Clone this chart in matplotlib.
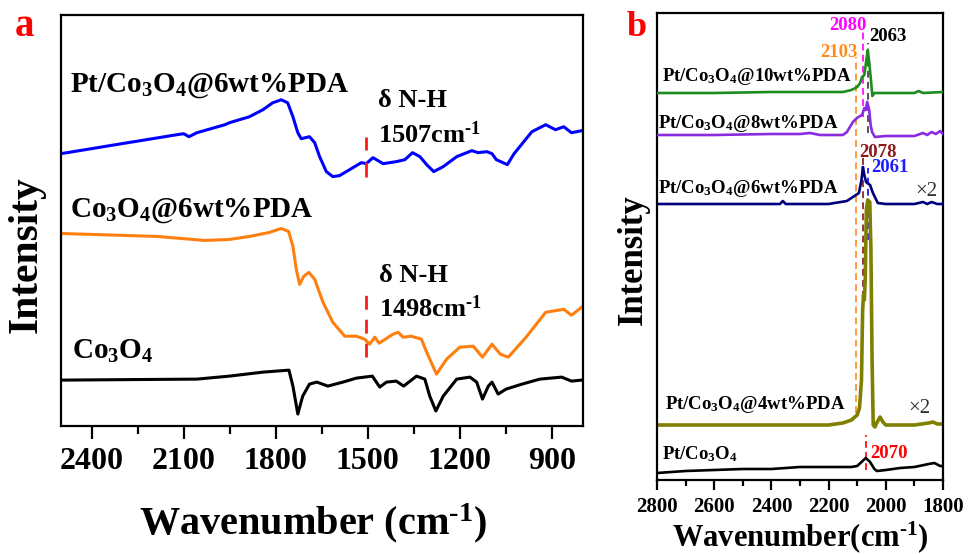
import matplotlib
matplotlib.use("Agg")
import matplotlib.pyplot as plt

plt.rcParams['font.family'] = ['Liberation Serif', 'DejaVu Serif']
plt.rcParams['font.weight'] = 'bold'
plt.rcParams['mathtext.fontset'] = 'custom'
plt.rcParams['mathtext.rm'] = 'Liberation Serif:bold'
plt.rcParams['mathtext.it'] = 'Liberation Serif:bold:italic'
plt.rcParams['mathtext.bf'] = 'Liberation Serif:bold'

# ---------------- Panel a data (FTIR) ----------------
a_blue_wn = [2500, 2302, 2122, 2100, 2083, 2057, 1966, 1951, 1886, 1842, 1810, 1782, 1761, 1744,
             1728, 1717, 1690, 1673, 1657, 1635, 1614, 1592, 1559, 1521, 1505, 1483, 1450, 1407,
             1379, 1354, 1330, 1308, 1285, 1254, 1210, 1161, 1140, 1112, 1095, 1081, 1045, 1023,
             965, 920, 888, 861, 836, 803]
a_blue_y = [273, 283, 292, 293, 290, 294, 302, 304, 310, 317, 324, 327, 324, 310,
            294, 288, 290, 284, 270, 255, 250, 251, 257, 264, 263, 269, 263, 265,
            267, 274, 270, 262, 255, 260, 270, 276, 274, 275, 273, 267, 262, 273,
            295, 302, 297, 300, 294, 296]

a_orange_wn = [2500, 2186, 2031, 1951, 1886, 1821, 1782, 1758, 1744, 1733, 1722, 1709, 1692, 1673,
               1646, 1614, 1575, 1537, 1510, 1494, 1477, 1463, 1418, 1401, 1385, 1358, 1325, 1308,
               1276, 1243, 1200, 1156, 1126, 1095, 1068, 1042, 984, 920, 861, 836, 803]
a_orange_y = [193, 190, 186, 187, 190, 194, 198, 195, 180, 157, 142, 150, 154, 147,
              124, 104, 90, 90, 87, 82, 89, 83, 92, 94, 89, 90, 87, 74,
              52, 67, 79, 80, 69, 82, 72, 69, 89, 114, 117, 111, 119]

a_black_wn = [2500, 2057, 1951, 1842, 1757, 1744, 1728, 1712, 1690, 1666, 1630, 1581, 1537, 1485,
              1461, 1439, 1407, 1383, 1341, 1314, 1298, 1278, 1254, 1210, 1167, 1145, 1126, 1107,
              1095, 1075, 1049, 997, 939, 868, 836, 803]
a_black_y = [46, 47, 50, 54, 56, 40, 12, 30, 42, 44, 40, 44, 48, 50,
             39, 44, 45, 40, 50, 47, 30, 15, 30, 47, 49, 44, 27, 40,
             44, 32, 37, 42, 47, 49, 45, 46]

a_ticks = [2400, 2100, 1800, 1500, 1200, 900]
a_nh_labels = [1507, 1498]
a_nh_marks = [1505, 1505]

# ---------------- Panel b data (CO-DRIFTS) ----------------
b_green_wn = [2800, 2600, 2400, 2200, 2150, 2120, 2100, 2090, 2083, 2075, 2068, 2063, 2058, 2052,
              2047, 2040, 2000, 1900, 1885, 1870, 1800]
b_green_y = [387, 387, 388, 388, 388, 390, 393, 397, 403, 405, 420, 430, 418, 400,
             384, 387, 387, 387, 389, 387, 388]

b_purple_wn = [2800, 2600, 2400, 2300, 2265, 2230, 2150, 2136, 2115, 2101, 2090, 2083, 2075, 2070,
               2065, 2058, 2053, 2048, 2038, 2000, 1900, 1870, 1855, 1840, 1825, 1810, 1800]
b_purple_y = [345, 345, 346, 346, 347, 345, 345, 348, 358, 362, 364, 365, 372, 370,
              378, 370, 355, 348, 343, 344, 344, 347, 345, 348, 346, 349, 346]

b_navy_wn = [2800, 2600, 2400, 2370, 2360, 2350, 2200, 2136, 2115, 2094, 2085, 2080, 2075, 2069,
             2055, 2045, 2028, 2000, 1900, 1870, 1855, 1840, 1820, 1800]
b_navy_y = [276, 276, 276, 276, 279, 276, 276, 279, 283, 287, 300, 313, 305, 298,
            295, 287, 277, 276, 276, 278, 276, 278, 276, 276]

b_olive_wn = [2800, 2400, 2200, 2150, 2120, 2100, 2092, 2085, 2081, 2078, 2075, 2072, 2068, 2063,
              2056, 2052, 2048, 2044, 2038, 2030, 2020, 2010, 2000, 1900, 1850, 1835, 1820, 1800]
b_olive_y = [55, 55, 55, 57, 60, 65, 72, 100, 170, 185, 180, 200, 270, 280,
             278, 230, 120, 55, 53, 58, 63, 58, 55, 55, 57, 58, 56, 56]

b_black_wn = [2800, 2700, 2600, 2500, 2400, 2300, 2200, 2120, 2100, 2085, 2070, 2055, 2040, 2031,
              2000, 1950, 1900, 1850, 1830, 1810, 1800]
b_black_y = [7, 9, 10, 11, 11, 13, 13, 13, 14, 18, 22, 18, 11, 9,
             10, 12, 13, 16, 17, 14, 14]

b_ticks = [2800, 2600, 2400, 2200, 2000, 1800]

b_peaks = [2103, 2080, 2063, 2078, 2061, 2070]
b_peak_colors = ['#FF9A3C', '#FF22FF', '#555555', '#8B3A3A', '#2A2AFF', '#FF2020']
b_peak_text_colors = ['#FF8C1A', '#FF00FF', '#000000', '#8B1A1A', '#1E1EFF', '#FF0000']
b_peak_spans = [(67, 423), (363, 450), (347, 437), (160, 323), (240, 312), (10, 45)]

SUP = r'$^{\text{-}1}$'

fig = plt.figure(figsize=(9.68, 5.54), dpi=100)

# ================= Panel a =================
ax = fig.add_axes([61 / 968, 1 - 426 / 554, 521.5 / 968, 411 / 554])
ax.plot(a_blue_wn, a_blue_y, color='#0000FF', lw=2.2)
ax.plot(a_orange_wn, a_orange_y, color='#FF7F0E', lw=2.2)
ax.plot(a_black_wn, a_black_y, color='#000000', lw=2.2)
ax.vlines(a_nh_marks[0], 250, 290, colors='#FF1A1A', lw=2.0, linestyles=(0, (5.4, 4.3)))
ax.vlines(a_nh_marks[1], 69, 137, colors='#FF1A1A', lw=2.0, linestyles=(0, (5, 3.6)))
ax.set_xlim(2500, 800)
ax.set_ylim(0, 412)
ax.set_yticks([])
ax.set_xticks(a_ticks)
ax.set_xticks([2250, 1950, 1650, 1350, 1050], minor=True)
ax.tick_params(axis='x', which='major', direction='out', length=9, width=1.6,
               labelsize=23, pad=6)
ax.tick_params(axis='x', which='minor', direction='out', length=5.5, width=1.6)
for lab in ax.get_xticklabels():
    lab.set_fontweight('bold')
for s in ax.spines.values():
    s.set_linewidth(1.6)

lbl = 21
ax.text(2470, 335, 'Pt/Co$_3$O$_4$@6wt%PDA', fontsize=lbl, fontweight='bold', va='baseline')
ax.text(2470, 210, 'Co$_3$O$_4$@6wt%PDA', fontsize=lbl, fontweight='bold', va='baseline')
ax.text(2464, 67, 'Co$_3$O$_4$', fontsize=lbl, fontweight='bold', va='baseline')
ax.text(1467, 320, 'δ N-H', fontsize=19, fontweight='bold', va='baseline')
ax.text(1467, 284, f'{a_nh_labels[0]}cm' + SUP, fontsize=19, fontweight='bold', va='baseline')
ax.text(1463, 144, 'δ N-H', fontsize=19, fontweight='bold', va='baseline')
ax.text(1463, 109, f'{a_nh_labels[1]}cm' + SUP, fontsize=19, fontweight='bold', va='baseline')

fig.text(313 / 968, 1 - 523 / 554, 'Wavenumber (cm' + SUP + ')', fontsize=29,
         fontweight='bold', ha='center', va='center')
fig.text(27 / 968, 1 - 255 / 554, 'Intensity', fontsize=30, fontweight='bold',
         ha='center', va='center', rotation=90)
fig.text(25 / 968, 1 - 26 / 554, 'a', fontsize=28, fontweight='bold', color='#FF0000',
         ha='center', va='center')

# ================= Panel b =================
bx = fig.add_axes([657 / 968, 1 - 480 / 554, 286 / 968, 467 / 554])
for wn, col, (y0, y1) in zip(b_peaks, b_peak_colors, b_peak_spans):
    bx.vlines(wn, y0, y1, colors=col, lw=1.4, linestyles=(0, (3.5, 2.2)), zorder=1)
bx.plot(b_green_wn, b_green_y, color='#1E8C1E', lw=1.9, zorder=3)
bx.plot(b_purple_wn, b_purple_y, color='#8A2BE2', lw=1.9, zorder=3)
bx.plot(b_navy_wn, b_navy_y, color='#00007F', lw=1.9, zorder=3)
bx.plot(b_olive_wn, b_olive_y, color='#808000', lw=2.6, zorder=2)
bx.plot(b_black_wn, b_black_y, color='#000000', lw=1.9, zorder=3)
bx.set_xlim(2800, 1800)
bx.set_ylim(0, 467)
bx.set_yticks([])
bx.set_xticks(b_ticks)
bx.set_xticks([2700, 2500, 2300, 2100, 1900], minor=True)
bx.tick_params(axis='x', which='major', direction='out', length=7, width=1.6,
               labelsize=15, pad=5)
bx.tick_params(axis='x', which='minor', direction='out', length=4, width=1.6)
for lab in bx.get_xticklabels():
    lab.set_fontweight('bold')
for s in bx.spines.values():
    s.set_linewidth(1.6)

bl = 13.5
bx.text(2783, 399, 'Pt/Co$_3$O$_4$@10wt%PDA', fontsize=bl, fontweight='bold', va='baseline')
bx.text(2797, 352, 'Pt/Co$_3$O$_4$@8wt%PDA', fontsize=bl, fontweight='bold', va='baseline')
bx.text(2797, 287, 'Pt/Co$_3$O$_4$@6wt%PDA', fontsize=bl, fontweight='bold', va='baseline')
bx.text(2772, 71, 'Pt/Co$_3$O$_4$@4wt%PDA', fontsize=bl, fontweight='bold', va='baseline')
bx.text(2783, 21, 'Pt/Co$_3$O$_4$', fontsize=bl, fontweight='bold', va='baseline')
bx.text(1898, 284, '×2', fontsize=15, fontweight='normal', color='#333333', va='baseline')
bx.text(1922, 67, '×2', fontsize=15, fontweight='normal', color='#333333', va='baseline')

b_text_pos = [(2164, 423), (2132, 450), (1992, 439), (2027, 323), (1985, 308), (1989, 22)]
for wn, col, (tx, ty) in zip(b_peaks, b_peak_text_colors, b_text_pos):
    bx.text(tx, ty, str(wn), fontsize=13.5, fontweight='bold', color=col,
            ha='center', va='baseline')

fig.text(800 / 968, 1 - 537 / 554, 'Wavenumber(cm' + SUP + ')', fontsize=22,
         fontweight='bold', ha='center', va='center')
fig.text(633 / 968, 1 - 260 / 554, 'Intensity', fontsize=25, fontweight='bold',
         ha='center', va='center', rotation=90)
fig.text(637 / 968, 1 - 28 / 554, 'b', fontsize=26, fontweight='bold', color='#FF0000',
         ha='center', va='center')

fig.savefig('out.png', dpi=100)
